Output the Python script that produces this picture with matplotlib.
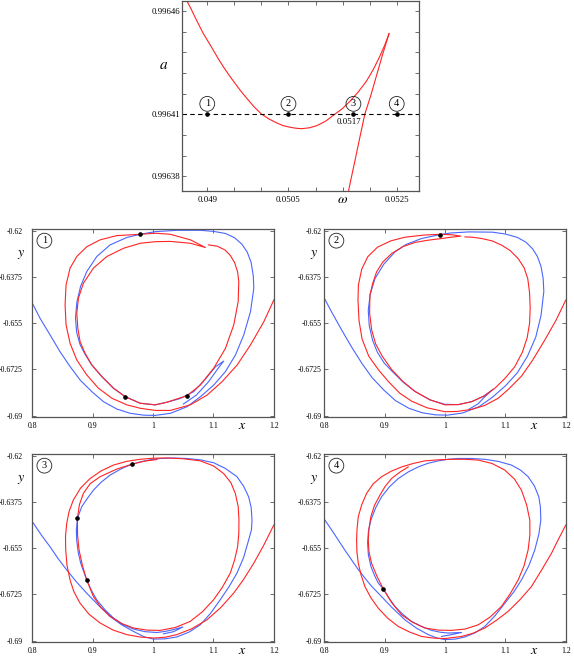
import matplotlib
matplotlib.use('Agg')
import matplotlib.pyplot as plt

plt.rcParams['font.family'] = ['Liberation Serif', 'DejaVu Serif']
plt.rcParams['mathtext.fontset'] = 'stix'
plt.rcParams['axes.unicode_minus'] = False

RED = '#ff2424'
BLUE = '#4a66ff'
SPINE = '#555555'

# ---------------- top panel: a versus omega ----------------
omega_branch1 = [0.048620, 0.048700, 0.048773, 0.048850, 0.048927, 0.049020, 0.049111, 0.049200,
                 0.049296, 0.049400, 0.049511, 0.049620, 0.049727, 0.049860, 0.050004, 0.050140,
                 0.050281, 0.050400, 0.050526, 0.050640, 0.050742, 0.050880, 0.051019, 0.051190,
                 0.051357, 0.051500, 0.051633, 0.051790, 0.051941, 0.052070, 0.052187, 0.052280,
                 0.052358]
a_branch1 = [0.9964650, 0.9964610, 0.9964570, 0.9964530, 0.9964490, 0.9964450, 0.9964410, 0.9964370,
             0.9964330, 0.9964290, 0.9964250, 0.9964212, 0.9964178, 0.9964137, 0.9964100, 0.9964077,
             0.9964058, 0.9964045, 0.9964037, 0.9964032, 0.9964030, 0.9964034, 0.9964044, 0.9964067,
             0.9964100, 0.9964128, 0.9964162, 0.9964208, 0.9964260, 0.9964318, 0.9964380, 0.9964435,
             0.9964490]
omega_branch2 = [0.052358, 0.052240, 0.052130, 0.052020, 0.051910, 0.051820, 0.051740, 0.051650,
                 0.051572]
a_branch2 = [0.996449, 0.996439, 0.996429, 0.996419, 0.996410, 0.996399, 0.996389, 0.996378,
             0.996368]
a_level = 0.99641
omega_marks = [0.049, 0.0505, 0.0517, 0.0525]
mark_labels = ['1', '2', '3', '4']
omega_ticks = [0.049, 0.0495, 0.05, 0.0505, 0.051, 0.0515, 0.052, 0.0525]
omega_ticklabels = ['0.049', '', '', '0.0505', '', '', '', '0.0525']
a_ticks = [0.99638, 0.99639, 0.9964, 0.99641, 0.99642, 0.99643, 0.99644, 0.99645, 0.99646]
a_ticklabels = ['0.99638', '', '', '0.99641', '', '', '', '', '0.99646']

# ---------------- panel 1 ----------------
p1_blue_x = [0.8000, 0.8128, 0.8294, 0.8460, 0.8626, 0.8792, 0.8986, 0.9179, 0.9401, 0.9622,
             0.9843, 1.0037, 1.0288, 1.0563, 1.0786, 1.1005, 1.1199, 1.1365, 1.1503, 1.1614,
             1.1669, 1.1660, 1.1625, 1.1559, 1.1470, 1.1350, 1.1200, 1.1000, 1.0784, 1.0397,
             1.0037, 0.9788, 0.9567, 0.9290, 0.9069, 0.8903, 0.8800, 0.8738, 0.8715, 0.8735,
             0.8790, 0.8875, 0.8986, 0.9152, 0.9345, 0.9539, 0.9788, 1.0037, 1.0231, 1.0452,
             1.0673, 1.0867, 1.1033, 1.1171, 1.1083, 1.0917, 1.0717, 1.0502]
p1_blue_y = [-0.6474, -0.6531, -0.6594, -0.6658, -0.6714, -0.6765, -0.6809, -0.6847, -0.6875, -0.6891,
             -0.6898, -0.6899, -0.6891, -0.6866, -0.6828, -0.6784, -0.6733, -0.6670, -0.6594, -0.6506,
             -0.6417, -0.6370, -0.6320, -0.6280, -0.6250, -0.6226, -0.6210, -0.6202, -0.6198, -0.6198,
             -0.6203, -0.6213, -0.6225, -0.6253, -0.6297, -0.6354, -0.6410, -0.6470, -0.6530, -0.6585,
             -0.6630, -0.6668, -0.6708, -0.6752, -0.6796, -0.6828, -0.6853, -0.6859, -0.6849, -0.6835,
             -0.6809, -0.6761, -0.6715, -0.6693, -0.6719, -0.6772, -0.6822, -0.6856]
p1_red_x = [1.2000, 1.1835, 1.1614, 1.1393, 1.1144, 1.0895, 1.0618, 1.0286, 1.0037, 0.9788,
            0.9567, 0.9318, 0.9096, 0.8903, 0.8737, 0.8626, 0.8559, 0.8543, 0.8559, 0.8626,
            0.8737, 0.8903, 0.9124, 0.9401, 0.9788, 1.0037, 1.0286, 1.0618, 1.0867, 1.0618,
            1.0286, 1.0037, 0.9788, 0.9511, 0.9235, 0.9013, 0.8847, 0.8764, 0.8737, 0.8754,
            0.8792, 0.8875, 0.8986, 0.9152, 0.9345, 0.9539, 0.9788, 1.0037, 1.0231, 1.0563,
            1.0784, 1.1005, 1.1199, 1.1337, 1.1410, 1.1420, 1.1400, 1.1350, 1.1280, 1.1190,
            1.1061, 1.0917]
p1_red_y = [-0.6462, -0.6544, -0.6632, -0.6708, -0.6771, -0.6822, -0.6859, -0.6880, -0.6880, -0.6872,
            -0.6859, -0.6834, -0.6796, -0.6746, -0.6689, -0.6626, -0.6556, -0.6480, -0.6405, -0.6341,
            -0.6297, -0.6260, -0.6234, -0.6218, -0.6213, -0.6209, -0.6213, -0.6234, -0.6263, -0.6247,
            -0.6240, -0.6241, -0.6247, -0.6266, -0.6297, -0.6341, -0.6398, -0.6455, -0.6512, -0.6569,
            -0.6620, -0.6664, -0.6708, -0.6752, -0.6796, -0.6828, -0.6853, -0.6859, -0.6849, -0.6824,
            -0.6784, -0.6720, -0.6645, -0.6556, -0.6468, -0.6392, -0.6355, -0.6320, -0.6293, -0.6272,
            -0.6258, -0.6253]
p1_dots_x = [0.9788, 0.9539, 1.0563]
p1_dots_y = [-0.6213, -0.6828, -0.6824]

# ---------------- panel 2 ----------------
p2_blue_x = [0.8000, 0.8128, 0.8294, 0.8460, 0.8626, 0.8792, 0.8986, 0.9179, 0.9401, 0.9622,
             0.9843, 1.0037, 1.0288, 1.0563, 1.0786, 1.1005, 1.1199, 1.1365, 1.1503, 1.1590,
             1.1636, 1.1625, 1.1590, 1.1530, 1.1450, 1.1340, 1.1200, 1.1000, 1.0784, 1.0397,
             1.0100, 0.9920, 0.9612, 0.9350, 0.9170, 0.8990, 0.8839, 0.8760, 0.8728, 0.8745,
             0.8800, 0.8880, 0.8990, 0.9115, 0.9300, 0.9501, 0.9750, 0.9997, 1.0220, 1.0440,
             1.0640, 1.0797, 1.0650, 1.0549, 1.0400]
p2_blue_y = [-0.6455, -0.6510, -0.6578, -0.6643, -0.6703, -0.6756, -0.6803, -0.6843, -0.6872, -0.6889,
             -0.6897, -0.6898, -0.6890, -0.6866, -0.6830, -0.6786, -0.6737, -0.6675, -0.6602, -0.6520,
             -0.6430, -0.6380, -0.6335, -0.6297, -0.6268, -0.6243, -0.6225, -0.6212, -0.6205, -0.6204,
             -0.6208, -0.6214, -0.6229, -0.6252, -0.6280, -0.6325, -0.6381, -0.6440, -0.6501, -0.6560,
             -0.6615, -0.6660, -0.6700, -0.6730, -0.6772, -0.6808, -0.6840, -0.6857, -0.6858, -0.6847,
             -0.6826, -0.6800, -0.6830, -0.6855, -0.6875]
p2_red_x = [1.2000, 1.1835, 1.1653, 1.1450, 1.1267, 1.1050, 1.0880, 1.0650, 1.0440, 1.0200,
            0.9998, 0.9700, 0.9446, 0.9250, 0.9059, 0.8903, 0.8737, 0.8626, 0.8575, 0.8558,
            0.8565, 0.8620, 0.8720, 0.8880, 0.9100, 0.9336, 0.9650, 0.9920, 1.0120, 1.0262,
            1.0100, 0.9943, 0.9700, 0.9501, 0.9300, 0.9115, 0.8970, 0.8867, 0.8800, 0.8756,
            0.8750, 0.8784, 0.8850, 0.8960, 0.9115, 0.9300, 0.9501, 0.9750, 0.9998, 1.0220,
            1.0440, 1.0650, 1.0825, 1.1000, 1.1156, 1.1280, 1.1360, 1.1400, 1.1410, 1.1400,
            1.1370, 1.1310, 1.1211, 1.1080, 1.0936, 1.0780, 1.0605, 1.0450, 1.0329]
p2_red_y = [-0.6462, -0.6540, -0.6613, -0.6690, -0.6750, -0.6800, -0.6834, -0.6862, -0.6876, -0.6884,
            -0.6885, -0.6870, -0.6845, -0.6815, -0.6770, -0.6728, -0.6675, -0.6610, -0.6540, -0.6462,
            -0.6405, -0.6345, -0.6298, -0.6262, -0.6238, -0.6224, -0.6216, -0.6213, -0.6215, -0.6220,
            -0.6224, -0.6229, -0.6236, -0.6244, -0.6260, -0.6286, -0.6318, -0.6355, -0.6400, -0.6444,
            -0.6510, -0.6575, -0.6628, -0.6675, -0.6725, -0.6770, -0.6808, -0.6840, -0.6859, -0.6858,
            -0.6847, -0.6825, -0.6796, -0.6757, -0.6714, -0.6660, -0.6605, -0.6550, -0.6494, -0.6435,
            -0.6381, -0.6340, -0.6305, -0.6275, -0.6254, -0.6238, -0.6229, -0.6224, -0.6223]
p2_dots_x = [0.9920]
p2_dots_y = [-0.6214]

# ---------------- panel 3 ----------------
p3_blue_x = [0.8000, 0.8150, 0.8293, 0.8430, 0.8570, 0.8730, 0.8901, 0.9100, 0.9288, 0.9480,
             0.9676, 0.9850, 1.0007, 1.0200, 1.0394, 1.0600, 1.0782, 1.0950, 1.1113, 1.1260,
             1.1390, 1.1500, 1.1583, 1.1630, 1.1639, 1.1625, 1.1583, 1.1500, 1.1390, 1.1200,
             1.1003, 1.0780, 1.0560, 1.0330, 1.0118, 0.9950, 0.9786, 0.9659, 0.9480, 0.9288,
             0.9140, 0.9012, 0.8900, 0.8818, 0.8747, 0.8730, 0.8735, 0.8760, 0.8802, 0.8901,
             0.8980, 0.9067, 0.9200, 0.9344, 0.9500, 0.9676, 0.9870, 1.0063, 1.0200, 1.0339,
             1.0494, 1.0339, 1.0173]
p3_blue_y = [-0.6449, -0.6500, -0.6544, -0.6590, -0.6632, -0.6677, -0.6720, -0.6767, -0.6808, -0.6840,
             -0.6865, -0.6885, -0.6894, -0.6893, -0.6886, -0.6867, -0.6840, -0.6797, -0.6745, -0.6695,
             -0.6644, -0.6585, -0.6519, -0.6480, -0.6443, -0.6395, -0.6355, -0.6315, -0.6279, -0.6248,
             -0.6226, -0.6215, -0.6210, -0.6208, -0.6210, -0.6215, -0.6223, -0.6231, -0.6248, -0.6273,
             -0.6300, -0.6330, -0.6365, -0.6393, -0.6437, -0.6480, -0.6519, -0.6565, -0.6607, -0.6670,
             -0.6710, -0.6745, -0.6782, -0.6814, -0.6838, -0.6856, -0.6866, -0.6869, -0.6865, -0.6858,
             -0.6848, -0.6866, -0.6874]
p3_red_x = [1.2000, 1.1830, 1.1667, 1.1500, 1.1335, 1.1120, 1.0892, 1.0640, 1.0394, 1.0200,
            1.0007, 0.9780, 0.9565, 0.9340, 0.9123, 0.8940, 0.8791, 0.8690, 0.8625, 0.8575,
            0.8553, 0.8550, 0.8570, 0.8610, 0.8680, 0.8800, 0.8957, 0.9140, 0.9344, 0.9560,
            0.9786, 1.0000, 1.0229, 1.0500, 1.0782, 1.1000, 1.1169, 1.1290, 1.1362, 1.1410,
            1.1423, 1.1420, 1.1401, 1.1350, 1.1279, 1.1150, 1.1003, 1.0820, 1.0616, 1.0370,
            1.0118, 0.9900, 0.9676, 0.9480, 0.9288, 0.9140, 0.9012, 0.8901, 0.8830, 0.8774,
            0.8750, 0.8747, 0.8780, 0.8846, 0.8960, 0.9123, 0.9400, 0.9659, 0.9860, 1.0063]
p3_red_y = [-0.6462, -0.6540, -0.6607, -0.6668, -0.6720, -0.6775, -0.6821, -0.6855, -0.6877, -0.6887,
            -0.6890, -0.6886, -0.6877, -0.6860, -0.6833, -0.6800, -0.6758, -0.6715, -0.6670, -0.6615,
            -0.6556, -0.6505, -0.6456, -0.6410, -0.6367, -0.6322, -0.6286, -0.6257, -0.6235, -0.6221,
            -0.6213, -0.6209, -0.6208, -0.6211, -0.6219, -0.6238, -0.6267, -0.6302, -0.6342, -0.6392,
            -0.6443, -0.6495, -0.6544, -0.6595, -0.6644, -0.6697, -0.6745, -0.6790, -0.6827, -0.6850,
            -0.6861, -0.6860, -0.6852, -0.6835, -0.6808, -0.6775, -0.6733, -0.6670, -0.6615, -0.6556,
            -0.6500, -0.6437, -0.6385, -0.6342, -0.6305, -0.6279, -0.6250, -0.6231, -0.6220, -0.6214]
p3_dots_x = [0.9659, 0.8747, 0.8901]
p3_dots_y = [-0.6231, -0.6437, -0.6670]

# ---------------- panel 4 ----------------
p4_blue_x = [0.8000, 0.8120, 0.8232, 0.8340, 0.8452, 0.8560, 0.8673, 0.8780, 0.8894, 0.9110,
             0.9335, 0.9530, 0.9721, 0.9870, 0.9997, 1.0170, 1.0328, 1.0500, 1.0659, 1.0830,
             1.0990, 1.1140, 1.1266, 1.1390, 1.1487, 1.1555, 1.1586, 1.1580, 1.1553, 1.1480,
             1.1376, 1.1250, 1.1101, 1.0880, 1.0659, 1.0440, 1.0218, 1.0050, 0.9887, 0.9720,
             0.9556, 0.9390, 0.9225, 0.9080, 0.8949, 0.8850, 0.8772, 0.8730, 0.8717, 0.8730,
             0.8772, 0.8830, 0.8894, 0.8977, 0.9070, 0.9170, 0.9300, 0.9445, 0.9610, 0.9776,
             0.9920, 1.0052, 1.0160, 1.0273, 1.0107, 0.9942]
p4_blue_y = [-0.6440, -0.6480, -0.6519, -0.6557, -0.6594, -0.6630, -0.6663, -0.6693, -0.6720, -0.6772,
             -0.6821, -0.6853, -0.6877, -0.6890, -0.6896, -0.6894, -0.6886, -0.6870, -0.6846, -0.6805,
             -0.6758, -0.6715, -0.6670, -0.6615, -0.6556, -0.6495, -0.6443, -0.6395, -0.6355, -0.6314,
             -0.6279, -0.6254, -0.6235, -0.6221, -0.6213, -0.6210, -0.6210, -0.6213, -0.6219, -0.6228,
             -0.6242, -0.6261, -0.6286, -0.6317, -0.6355, -0.6397, -0.6443, -0.6487, -0.6531, -0.6575,
             -0.6619, -0.6652, -0.6682, -0.6704, -0.6738, -0.6770, -0.6800, -0.6827, -0.6846, -0.6861,
             -0.6868, -0.6871, -0.6870, -0.6869, -0.6877, -0.6884]
p4_red_x = [1.2000, 1.1880, 1.1763, 1.1600, 1.1431, 1.1240, 1.1045, 1.0850, 1.0659, 1.0460,
            1.0273, 0.9997, 0.9800, 0.9611, 0.9420, 0.9225, 0.9050, 0.8894, 0.8770, 0.8673,
            0.8610, 0.8563, 0.8540, 0.8535, 0.8543, 0.8563, 0.8620, 0.8701, 0.8810, 0.8949,
            0.9110, 0.9280, 0.9470, 0.9666, 0.9890, 1.0107, 1.0330, 1.0549, 1.0780, 1.0990,
            1.1150, 1.1266, 1.1350, 1.1404, 1.1405, 1.1376, 1.1310, 1.1211, 1.1080, 1.0935,
            1.0750, 1.0549, 1.0330, 1.0107, 0.9890, 0.9666, 0.9460, 0.9280, 0.9120, 0.8977,
            0.8870, 0.8783, 0.8740, 0.8728, 0.8740, 0.8772, 0.8830, 0.8921, 0.9010, 0.9114,
            0.9250, 0.9390]
p4_red_y = [-0.6462, -0.6515, -0.6569, -0.6632, -0.6695, -0.6745, -0.6789, -0.6823, -0.6852, -0.6872,
            -0.6884, -0.6892, -0.6890, -0.6884, -0.6868, -0.6846, -0.6815, -0.6777, -0.6737, -0.6695,
            -0.6652, -0.6607, -0.6563, -0.6519, -0.6475, -0.6430, -0.6385, -0.6342, -0.6306, -0.6279,
            -0.6258, -0.6242, -0.6229, -0.6219, -0.6215, -0.6213, -0.6213, -0.6216, -0.6229, -0.6254,
            -0.6288, -0.6330, -0.6385, -0.6443, -0.6500, -0.6556, -0.6615, -0.6670, -0.6722, -0.6770,
            -0.6810, -0.6840, -0.6856, -0.6861, -0.6860, -0.6852, -0.6830, -0.6802, -0.6757, -0.6704,
            -0.6655, -0.6607, -0.6563, -0.6519, -0.6475, -0.6430, -0.6388, -0.6349, -0.6315, -0.6286,
            -0.6262, -0.6242]
p4_dots_x = [0.8977]
p4_dots_y = [-0.6704]

x_ticks = [0.8, 0.9, 1.0, 1.1, 1.2]
x_ticklabels = ['0.8', '0.9', '1', '1.1', '1.2']
y_ticks = [-0.69, -0.6725, -0.655, -0.6375, -0.62]
y_ticklabels = ['-0.69', '-0.6725', '-0.655', '-0.6375', '-0.62']

W, H = 574, 657
fig = plt.figure(figsize=(W / 100, H / 100), dpi=100)
LW = 0.8


def style_spines(ax):
    for s in ax.spines.values():
        s.set_color(SPINE)
        s.set_linewidth(0.9)


# ---- top panel ----
axt = fig.add_axes([181.7 / W, 1 - 190.7 / H, 237.3 / W, 190.2 / H])
axt.plot(omega_branch1, a_branch1, color=RED, lw=LW, solid_joinstyle='round')
axt.plot(omega_branch2, a_branch2, color=RED, lw=LW, solid_joinstyle='round')
axt.axhline(a_level, color='black', lw=0.8, ls=(0, (4, 3)))
axt.plot(omega_marks, [a_level] * len(omega_marks), 'o', color='black', ms=2.3)
for w, lab in zip(omega_marks, mark_labels):
    axt.text(w, 0.996415, lab, ha='center', va='center', fontsize=7.5,
             bbox=dict(boxstyle='circle,pad=0.28', fc='none', ec='#222222', lw=0.6))
axt.text(0.05161, 0.996406, '0.0517', ha='center', va='center', fontsize=6.3)
axt.set_xlim(0.048528, 0.052911)
axt.set_ylim(0.996373, 0.996465)
axt.set_xticks(omega_ticks)
axt.set_xticklabels(omega_ticklabels)
axt.set_yticks(a_ticks)
axt.set_yticklabels(a_ticklabels)
axt.tick_params(direction='in', length=3, width=0.6, top=True, right=True,
                labelsize=6.3, color=SPINE)
axt.tick_params(axis='y', pad=1.2)
axt.tick_params(axis='x', pad=3.5)
axt.text(-0.078, 0.66, r'$a$', transform=axt.transAxes, ha='center', va='center', fontsize=11)
axt.text(0.678, -0.045, r'$\omega$', transform=axt.transAxes, ha='center', va='center', fontsize=10)
style_spines(axt)

panels = [
    (32.3, 229, p1_blue_x, p1_blue_y, p1_red_x, p1_red_y, p1_dots_x, p1_dots_y, '1', 7.0, -0.048),
    (324.3, 229, p2_blue_x, p2_blue_y, p2_red_x, p2_red_y, p2_dots_x, p2_dots_y, '2', 2.0, -0.041),
    (32.3, 454, p3_blue_x, p3_blue_y, p3_red_x, p3_red_y, p3_dots_x, p3_dots_y, '3', 7.0, -0.048),
    (324.3, 454, p4_blue_x, p4_blue_y, p4_red_x, p4_red_y, p4_dots_x, p4_dots_y, '4', 2.0, -0.041),
]

for (left, top, bx, by, rx, ry, dx, dy, lab, ypad, ylab_x) in panels:
    ax = fig.add_axes([left / W, 1 - (top + 188) / H, 241.5 / W, 188 / H])
    ax.plot(bx, by, color=BLUE, lw=LW, solid_joinstyle='round')
    ax.plot(rx, ry, color=RED, lw=LW, solid_joinstyle='round')
    ax.plot(dx, dy, 'o', color='black', ms=2.3)
    ax.set_xlim(0.8, 1.2)
    ax.set_ylim(-0.6905, -0.6193)
    ax.set_xticks(x_ticks)
    ax.set_xticklabels(x_ticklabels)
    ax.set_yticks(y_ticks)
    ax.set_yticklabels(y_ticklabels)
    ax.tick_params(direction='in', length=3, width=0.6, top=True, right=True,
                   labelsize=5.6, color=SPINE)
    ax.tick_params(axis='y', pad=ypad)
    ax.tick_params(axis='x', pad=3.5)
    ax.text(0.05, 0.938, lab, transform=ax.transAxes, ha='center', va='center', fontsize=7.5,
            bbox=dict(boxstyle='circle,pad=0.28', fc='white', ec='#222222', lw=0.6))
    ax.text(ylab_x, 0.865, r'$y$', transform=ax.transAxes, ha='center', va='center', fontsize=10)
    ax.text(0.871, -0.043, r'$x$', transform=ax.transAxes, ha='center', va='center', fontsize=10)
    style_spines(ax)

fig.savefig('out.png', dpi=100)
